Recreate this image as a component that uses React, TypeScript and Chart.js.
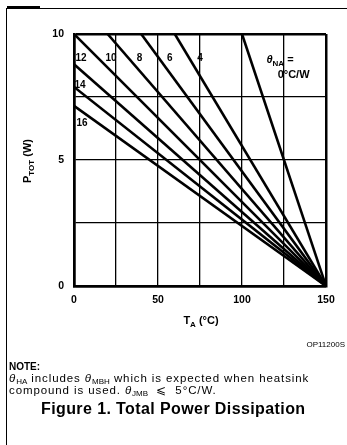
import React, { useEffect, useRef } from "react";
import { Chart, registerables } from "chart.js";

Chart.register(...registerables);

// Thermal resistance heatsink→ambient (°C/W) for each curve
const thetaLabels = ["0", "4", "6", "8", "10", "12", "14", "16"];
// Start point of each derating line (T_A in °C, P_TOT in W)
const startTemps = [100, 60, 40, 20, 0, 0, 0, 0];
const startPowers = [10, 10, 10, 10, 10, 8.8, 7.9, 7.15];
// All lines end at T_A = 150 °C, P_TOT = 0 W
const endTemp = 150;
const endPower = 0;

const xTickLabels = ["0", "50", "100", "150"];
const yTickLabels = ["0", "5", "10"];

// Curve label texts and where they sit (data coordinates)
const curveLabelTexts = ["12", "10", "8", "6", "4", "14", "16"];
const curveLabelT = [4.2, 22, 39, 57, 75, 3.6, 4.8];
const curveLabelP = [9.03, 9.03, 9.03, 9.03, 9.03, 7.98, 6.45];

const FONT = '"Liberation Sans", Arial, Helvetica, sans-serif';

function drawSubText(
  ctx: CanvasRenderingContext2D,
  parts: { t: string; sub?: boolean; italic?: boolean }[],
  size: number,
  subSize: number,
  subShift: number
) {
  const fontFor = (p: { sub?: boolean; italic?: boolean }) =>
    `${p.italic ? "italic " : ""}bold ${p.sub ? subSize : size}px ${FONT}`;
  let w = 0;
  for (const p of parts) {
    ctx.font = fontFor(p);
    w += ctx.measureText(p.t).width;
  }
  return {
    width: w,
    draw: (x0: number, y0: number) => {
      let x = x0;
      for (const p of parts) {
        ctx.font = fontFor(p);
        ctx.fillText(p.t, x, y0 + (p.sub ? subShift : 0));
        x += ctx.measureText(p.t).width;
      }
    },
  };
}

const textPlugin = {
  id: "textPlugin",
  afterDraw(chart: any) {
    const ctx: CanvasRenderingContext2D = chart.ctx;
    const xs = chart.scales.x;
    const ys = chart.scales.y;
    ctx.save();
    ctx.fillStyle = "#000";
    ctx.textBaseline = "middle";
    ctx.textAlign = "center";
    ctx.font = `bold 10px ${FONT}`;
    curveLabelTexts.forEach((t, i) => {
      ctx.fillText(t, xs.getPixelForValue(curveLabelT[i]), ys.getPixelForValue(curveLabelP[i]));
    });

    // theta_NA = 0°C/W
    ctx.textAlign = "left";
    ctx.textBaseline = "alphabetic";
    const th = drawSubText(
      ctx,
      [{ t: "θ", italic: true }, { t: "NA", sub: true }, { t: " =" }],
      11,
      8,
      3
    );
    const thx = xs.getPixelForValue(122.6);
    const thy = ys.getPixelForValue(8.97);
    th.draw(thx - th.width / 2, thy + 3);
    ctx.font = `bold 11px ${FONT}`;
    ctx.textAlign = "center";
    ctx.fillText("0°C/W", xs.getPixelForValue(130.7), ys.getPixelForValue(8.43) + 4);

    // x axis title
    ctx.textAlign = "left";
    const xt = drawSubText(ctx, [{ t: "T" }, { t: "A", sub: true }, { t: " (°C)" }], 11, 8, 3);
    xt.draw(201 - xt.width / 2, 324);

    // y axis title (rotated)
    ctx.save();
    ctx.translate(31, 161);
    ctx.rotate(-Math.PI / 2);
    const yt = drawSubText(ctx, [{ t: "P" }, { t: "TOT", sub: true }, { t: " (W)" }], 11, 8, 3);
    yt.draw(-yt.width / 2, 0);
    ctx.restore();
    ctx.restore();
  },
};

export default function App() {
  const canvasRef = useRef<HTMLCanvasElement | null>(null);

  useEffect(() => {
    const canvas = canvasRef.current;
    if (!canvas) return;
    const datasets = thetaLabels.map((lab, i) => ({
      label: lab,
      data: [
        { x: startTemps[i], y: startPowers[i] },
        { x: endTemp, y: endPower },
      ],
      borderColor: "#000",
      borderWidth: 2.6,
      pointRadius: 0,
      fill: false,
      tension: 0,
    }));
    const edgeWidth = (ctx: any, min: number, max: number) => {
      const v = ctx.tick ? ctx.tick.value : null;
      return v === min || v === max ? 2.5 : 1.3;
    };
    const chart = new Chart(canvas, {
      type: "line",
      data: { datasets },
      plugins: [textPlugin],
      options: {
        animation: false,
        responsive: false,
        maintainAspectRatio: false,
        layout: { padding: { left: 0, top: 34, right: 21, bottom: 0 } },
        plugins: { legend: { display: false }, tooltip: { enabled: false } },
        scales: {
          x: {
            type: "linear",
            min: 0,
            max: 150,
            afterFit: (s: any) => {
              s.height = 445 - 286;
            },
            border: { display: true, color: "#000", width: 2.5 },
            grid: {
              color: "#000",
              lineWidth: (c: any) => edgeWidth(c, 0, 150),
              drawTicks: false,
            },
            ticks: {
              stepSize: 25,
              padding: 8,
              color: "#000",
              font: { family: FONT, size: 10.5, weight: "bold" },
              autoSkip: false,
              maxRotation: 0,
              callback: (v: any) => {
                const s = String(v);
                return xTickLabels.includes(s) ? s : "";
              },
            },
          },
          y: {
            type: "linear",
            min: 0,
            max: 10,
            afterFit: (s: any) => {
              s.width = 74;
            },
            border: { display: true, color: "#000", width: 2.5 },
            grid: {
              color: "#000",
              lineWidth: (c: any) => edgeWidth(c, 0, 10),
              drawTicks: false,
            },
            ticks: {
              stepSize: 2.5,
              padding: 10,
              color: "#000",
              font: { family: FONT, size: 10.5, weight: "bold" },
              autoSkip: false,
              callback: (v: any) => {
                const s = String(v);
                return yTickLabels.includes(s) ? s : "";
              },
            },
          },
        },
      },
    });
    return () => chart.destroy();
  }, []);

  const textBase: React.CSSProperties = {
    position: "absolute",
    fontFamily: FONT,
    color: "#000",
    whiteSpace: "nowrap",
    lineHeight: 1,
  };
  const subStyle: React.CSSProperties = { fontSize: 8, verticalAlign: "-2px", letterSpacing: 0 };

  return (
    <div style={{ position: "fixed", left: 0, top: 0, width: 347, height: 445, background: "#fff", overflow: "hidden" }}>
      <div
        style={{
          position: "absolute",
          left: 6,
          top: 8,
          width: 345,
          height: 440,
          borderTop: "1.5px solid #000",
          borderLeft: "1.5px solid #000",
        }}
      />
      <div style={{ position: "absolute", left: 7, top: 6, width: 33, height: 3, background: "#000" }} />
      <canvas ref={canvasRef} width={347} height={445} style={{ position: "absolute", left: 0, top: 0 }} />
      <div style={{ ...textBase, right: 2, top: 341, fontSize: 8 }}>OP11200S</div>
      <div style={{ ...textBase, left: 9, top: 362, fontSize: 10, fontWeight: "bold" }}>NOTE:</div>
      <div style={{ ...textBase, left: 9, top: 373, fontSize: 11.5, letterSpacing: 0.9 }}>
        <i>θ</i>
        <sub style={subStyle}>HA</sub> includes <i>θ</i>
        <sub style={subStyle}>MBH</sub> which is expected when heatsink
      </div>
      <div style={{ ...textBase, left: 9, top: 385, fontSize: 11.5, letterSpacing: 0.9 }}>
        compound is used. <i>θ</i>
        <sub style={subStyle}>JMB</sub> &nbsp;⩽&nbsp; 5°C/W.
      </div>
      <div style={{ ...textBase, left: 41, top: 401, fontSize: 16, fontWeight: "bold", letterSpacing: 0.4 }}>
        Figure 1. Total Power Dissipation
      </div>
    </div>
  );
}
